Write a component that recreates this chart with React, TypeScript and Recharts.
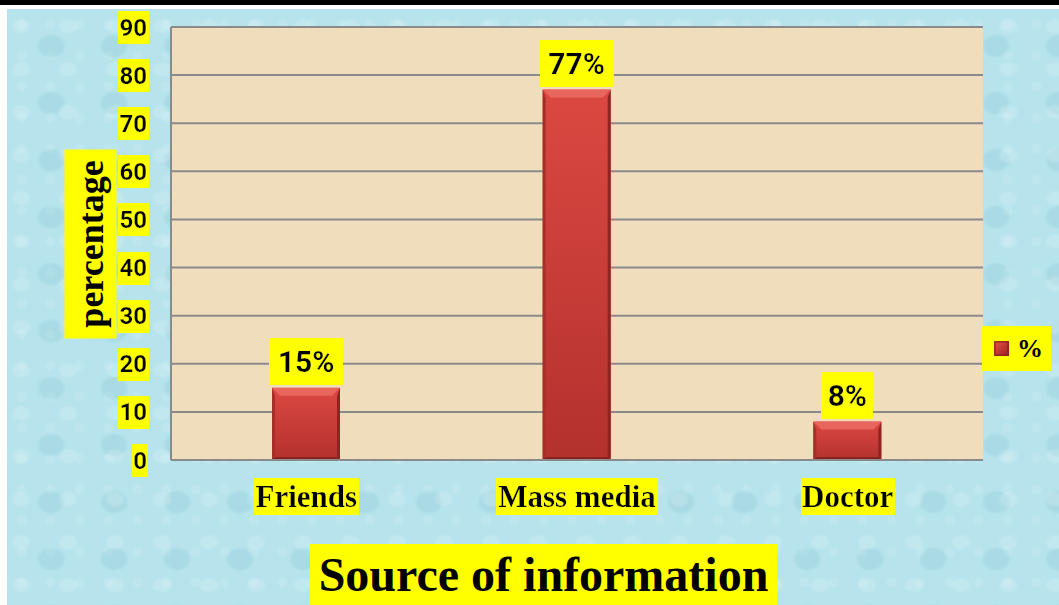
import React from 'react';
import { BarChart, Bar, XAxis, YAxis, CartesianGrid, LabelList, Legend } from 'recharts';

const categories = ['Friends', 'Mass media', 'Doctor'];
const percentValues = [15, 77, 8];
const yTicks = [0, 10, 20, 30, 40, 50, 60, 70, 80, 90];
const seriesName = '%';
const xTitle = 'Source of information';
const yTitle = 'percentage';

const data = categories.map((c, i) => ({ name: c, value: percentValues[i] }));

const YELLOW = '#ffff00';
const SERIF = '"Liberation Serif", "Times New Roman", serif';
const SANS = 'Roboto, "Open Sans", sans-serif';

const YTick = (props: any) => {
  const { x, y, payload } = props;
  return (
    <text x={x} y={y + 8.5} textAnchor="end" fontFamily={SANS} fontWeight="bold" fontSize={24} fill="#000" filter="url(#ybgTick)">
      {payload.value}
    </text>
  );
};

const XTick = (props: any) => {
  const { x, y, payload } = props;
  return (
    <text x={x} y={y + 47} textAnchor="middle" fontFamily={SERIF} fontWeight="bold" fontSize={31} fill="#000" filter="url(#ybgX)">
      {payload.value}
    </text>
  );
};

const DataLabel = (props: any) => {
  const { x, y, width, value } = props;
  return (
    <text x={x + width / 2} y={y - 15.5} textAnchor="middle" fontFamily={SANS} fontWeight="bold" fontSize={30} fill="#000" filter="url(#ybgLabel)">
      {value}%
    </text>
  );
};

const BevelBar = (props: any) => {
  const { x, y, width, height } = props;
  if (!height || height <= 0) return null;
  const b = Math.min(8, height / 3);
  const s = 3;
  return (
    <g>
      <rect x={x} y={y} width={width} height={height} fill="url(#barGrad)" />
      <polygon points={`${x},${y} ${x + width},${y} ${x + width - b},${y + b} ${x + b},${y + b}`} fill="#e9665f" />
      <polygon points={`${x},${y} ${x + s},${y + b} ${x + s},${y + height - s} ${x},${y + height}`} fill="#a82e2a" />
      <polygon points={`${x + width},${y} ${x + width - s},${y + b} ${x + width - s},${y + height - s} ${x + width},${y + height}`} fill="#8e2421" />
      <polygon points={`${x},${y + height} ${x + s},${y + height - s} ${x + width - s},${y + height - s} ${x + width},${y + height}`} fill="#8a2320" />
    </g>
  );
};

const LegendContent = () => (
  <div style={{ width: 69, height: 45, background: YELLOW, display: 'flex', alignItems: 'center', boxSizing: 'border-box', paddingLeft: 12 }}>
    <div style={{ width: 15, height: 15, background: 'linear-gradient(135deg, #e55a54 0%, #c23833 50%, #8e2421 100%)', boxShadow: 'inset 0 0 0 2px rgba(140,30,28,0.6)' }} />
    <span style={{ fontFamily: SERIF, fontWeight: 700, fontSize: 26, marginLeft: 8, lineHeight: '45px' }}>{seriesName}</span>
  </div>
);

export default function App() {
  return (
    <div style={{ position: 'absolute', left: 0, top: 0, width: 1059, height: 605, background: '#fff', overflow: 'hidden' }}>
      <svg width={0} height={0} style={{ position: 'absolute' }}>
        <defs>
          <filter id="ybgTick" x="-0.04" y="-0.07" width="1.08" height="1.14">
            <feFlood floodColor={YELLOW} />
            <feComposite in="SourceGraphic" operator="over" />
          </filter>
          <filter id="ybgX" x="-0.01" y="-0.02" width="1.02" height="1.04">
            <feFlood floodColor={YELLOW} />
            <feComposite in="SourceGraphic" operator="over" />
          </filter>
          <filter id="ybgLabel" x="-0.145" y="-0.157" width="1.29" height="1.31">
            <feFlood floodColor={YELLOW} />
            <feComposite in="SourceGraphic" operator="over" />
          </filter>
          <linearGradient id="barGrad" x1="0" y1="0" x2="0" y2="1">
            <stop offset="0%" stopColor="#dc4842" />
            <stop offset="100%" stopColor="#b3312e" />
          </linearGradient>
        </defs>
      </svg>
      <div style={{ position: 'absolute', left: 0, top: 0, width: 1059, height: 5, background: '#000' }} />
      <div
        style={{
          position: 'absolute', left: 7, top: 9, width: 1052, height: 596,
          backgroundColor: '#b6e3ec',
          backgroundImage:
            'radial-gradient(ellipse at 30% 40%, rgba(255,255,255,0.16) 0 7px, transparent 11px), radial-gradient(ellipse at 70% 65%, rgba(80,160,180,0.12) 0 11px, transparent 15px), radial-gradient(circle at 50% 50%, rgba(255,255,255,0.1) 0 4px, transparent 6px)',
          backgroundSize: '47px 43px, 63px 57px, 29px 31px',
        }}
      />
      <div style={{ position: 'absolute', left: 0, top: 0 }}>
        <BarChart width={1059} height={605} data={data} margin={{ top: 27, right: 76, bottom: 115, left: 0 }}>
          <CartesianGrid vertical={false} stroke="#8a8a8a" strokeWidth={2} fill="#f0ddbb" fillOpacity={1} />
          <XAxis dataKey="name" height={30} tick={<XTick />} tickLine={false} tickSize={0} tickMargin={0} axisLine={{ stroke: '#8a8a8a', strokeWidth: 2 }} interval={0} />
          <YAxis width={171} domain={[0, 90]} ticks={yTicks} tick={<YTick />} tickLine={false} tickSize={0} tickMargin={24} axisLine={{ stroke: '#8a8a8a', strokeWidth: 2 }} interval={0} />
          <Legend layout="horizontal" verticalAlign="middle" align="center" content={<LegendContent />} wrapperStyle={{ left: 982, top: 326, width: 69, height: 45 }} />
          <Bar dataKey="value" name={seriesName} barSize={68} shape={<BevelBar />} isAnimationActive={false}>
            <LabelList dataKey="value" content={<DataLabel />} />
          </Bar>
        </BarChart>
      </div>
      <div style={{ position: 'absolute', left: 90 - 94.5, top: 243.5 - 26, width: 189, height: 52, transform: 'rotate(-90deg)', background: YELLOW, fontFamily: SERIF, fontWeight: 700, fontSize: 36, lineHeight: '52px', textAlign: 'center', color: '#000' }}>
        {yTitle}
      </div>
      <div style={{ position: 'absolute', left: 310, top: 544, width: 467, height: 61, background: YELLOW, fontFamily: SERIF, fontWeight: 700, fontSize: 48, lineHeight: '61px', textAlign: 'center', color: '#000', whiteSpace: 'nowrap' }}>
        {xTitle}
      </div>
    </div>
  );
}
